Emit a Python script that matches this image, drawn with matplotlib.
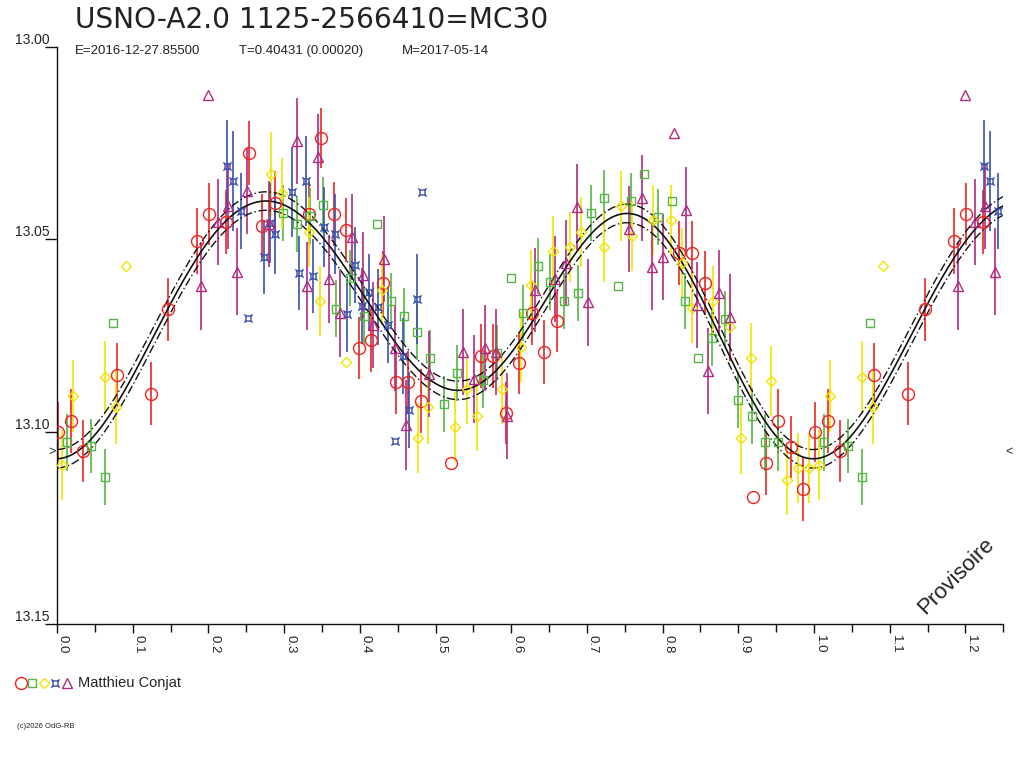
import numpy as np
import matplotlib
matplotlib.use("Agg")
import matplotlib.pyplot as plt
from matplotlib.path import Path
from matplotlib.ticker import MultipleLocator

plt.rcParams['font.family'] = ['Liberation Sans', 'DejaVu Sans']

# ---------------- data (phase, magnitude, error) ----------------
red_phase = [0.0017, 0.0181, 0.0347, 0.0789, 0.1238, 0.1470, 0.1845, 0.2012, 0.2232, 0.2540,
             0.2704, 0.2880, 0.3329, 0.3487, 0.3659, 0.3818, 0.3989, 0.4148, 0.4310, 0.4478,
             0.4641, 0.4808, 0.5209, 0.5601, 0.5764, 0.5931, 0.6103, 0.6271, 0.6433, 0.6601,
             0.8221, 0.8392, 0.8560, 0.9198, 0.9366, 0.9528, 0.9696, 0.9859]
red_mag = [13.1002, 13.0972, 13.1050, 13.0852, 13.0901, 13.0682, 13.0504, 13.0434, 13.0454, 13.0275,
           13.0465, 13.0405, 13.0434, 13.0236, 13.0434, 13.0476, 13.0782, 13.0762, 13.0613, 13.0872,
           13.0872, 13.0920, 13.1081, 13.0803, 13.0803, 13.0951, 13.0821, 13.0692, 13.0792, 13.0712,
           13.0535, 13.0535, 13.0613, 13.1169, 13.1081, 13.0972, 13.1039, 13.1150]
red_err = [0.0078, 0.0083, 0.0081, 0.0083, 0.0081, 0.0081, 0.0086, 0.0081, 0.0083, 0.0083,
           0.0083, 0.0083, 0.0083, 0.0078, 0.0083, 0.0083, 0.0081, 0.0083, 0.0083, 0.0083,
           0.0081, 0.0083, 0.0, 0.0083, 0.0083, 0.0081, 0.0081, 0.0083, 0.0083, 0.0081,
           0.0083, 0.0083, 0.0083, 0.0, 0.0083, 0.0083, 0.0081, 0.0083]

green_phase = [0.0128, 0.0449, 0.0634, 0.0740, 0.2982, 0.3166, 0.3342, 0.3518, 0.3686, 0.3871,
               0.4055, 0.4223, 0.4408, 0.4584, 0.4752, 0.4927, 0.5112, 0.5288, 0.5631, 0.5808,
               0.5997, 0.6160, 0.6350, 0.6513, 0.6701, 0.6878, 0.7050, 0.7230, 0.7407, 0.7579,
               0.7758, 0.7943, 0.8120, 0.8296, 0.8464, 0.8649, 0.8824, 0.8992, 0.9177, 0.9353,
               0.9528]
green_mag = [13.1028, 13.1037, 13.1117, 13.0718, 13.0431, 13.0461, 13.0439, 13.0411, 13.0680, 13.0601,
             13.0699, 13.0461, 13.0660, 13.0699, 13.0740, 13.0809, 13.0928, 13.0848, 13.0866, 13.0796,
             13.0600, 13.0691, 13.0569, 13.0610, 13.0660, 13.0640, 13.0431, 13.0392, 13.0621, 13.0400,
             13.0331, 13.0441, 13.0400, 13.0660, 13.0809, 13.0757, 13.0708, 13.0918, 13.0959, 13.1028,
             13.1028]
green_err = [0.0073, 0.0071, 0.0073, 0.0, 0.0073, 0.0073, 0.0073, 0.0073, 0.0073, 0.0073,
             0.0073, 0.0, 0.0073, 0.0073, 0.0073, 0.0073, 0.0073, 0.0073, 0.0073, 0.0073,
             0.0, 0.0073, 0.0073, 0.0073, 0.0073, 0.0073, 0.0073, 0.0073, 0.0, 0.0073,
             0.0, 0.0073, 0.0, 0.0073, 0.0, 0.0073, 0.0073, 0.0073, 0.0073, 0.0073,
             0.0073]

yellow_phase = [0.0070, 0.0215, 0.0638, 0.0783, 0.0911, 0.2823, 0.2976, 0.3333, 0.3474, 0.3814,
                0.4289, 0.4765, 0.4905, 0.5262, 0.5412, 0.5544, 0.5883, 0.6126, 0.6262, 0.6556,
                0.6777, 0.6918, 0.7226, 0.7454, 0.7596, 0.7877, 0.8107, 0.8252, 0.8388, 0.8670,
                0.8890, 0.9168, 0.9032, 0.9432, 0.9647, 0.9793, 0.9938]
yellow_mag = [13.1087, 13.0907, 13.0859, 13.0937, 13.0569, 13.0331, 13.0380, 13.0480, 13.0660, 13.0818,
              13.0632, 13.1017, 13.0937, 13.0987, 13.0889, 13.0959, 13.0889, 13.0779, 13.0619, 13.0530,
              13.0519, 13.0480, 13.0519, 13.0413, 13.0491, 13.0450, 13.0450, 13.0562, 13.0678, 13.0660,
              13.0729, 13.0809, 13.1016, 13.0868, 13.1126, 13.1095, 13.1095]
yellow_err = [0.0091, 0.0094, 0.0094, 0.0094, 0.0, 0.0109, 0.0091, 0.0091, 0.0091, 0.0,
              0.0091, 0.0091, 0.0094, 0.0091, 0.0091, 0.0091, 0.0091, 0.0091, 0.0091, 0.0091,
              0.0091, 0.0091, 0.0091, 0.0091, 0.0091, 0.0091, 0.0091, 0.0091, 0.0091, 0.0091,
              0.0091, 0.0091, 0.0094, 0.0091, 0.0091, 0.0091, 0.0091]

blue_phase = [0.2242, 0.2329, 0.2431, 0.2527, 0.2734, 0.2814, 0.2880, 0.3100, 0.3197, 0.3285,
              0.3378, 0.3531, 0.3672, 0.3827, 0.3937, 0.4033, 0.4126, 0.4236, 0.4377, 0.4465,
              0.4567, 0.4654, 0.4752, 0.4826]
blue_mag = [13.0309, 13.0348, 13.0426, 13.0705, 13.0545, 13.0457, 13.0486, 13.0378, 13.0588, 13.0348,
            13.0595, 13.0467, 13.0486, 13.0695, 13.0567, 13.0673, 13.0636, 13.0675, 13.0723, 13.1024,
            13.0803, 13.0944, 13.0656, 13.0378]
blue_err = [0.0120, 0.0130, 0.0099, 0.0, 0.0096, 0.0104, 0.0104, 0.0117, 0.0096, 0.0117,
            0.0096, 0.0104, 0.0104, 0.0099, 0.0099, 0.0099, 0.0099, 0.0099, 0.0099, 0.0,
            0.0099, 0.0099, 0.0117, 0.0]

purple_phase = [0.1898, 0.1999, 0.2131, 0.2263, 0.2384, 0.2514, 0.2794, 0.3164, 0.3306, 0.3452,
                0.3597, 0.3742, 0.3893, 0.4036, 0.4178, 0.4324, 0.4465, 0.4610, 0.4918, 0.5367,
                0.5513, 0.5654, 0.5799, 0.5941, 0.6314, 0.6579, 0.6724, 0.6873, 0.7019, 0.7560,
                0.7724, 0.7864, 0.8009, 0.8155, 0.8305, 0.8458, 0.8604, 0.8749, 0.8890]
purple_mag = [13.0621, 13.0125, 13.0454, 13.0413, 13.0584, 13.0374, 13.0461, 13.0244, 13.0621, 13.0285,
              13.0604, 13.0692, 13.0493, 13.0593, 13.0722, 13.0552, 13.0783, 13.0983, 13.0851, 13.0792,
              13.0864, 13.0783, 13.0792, 13.0959, 13.0632, 13.0604, 13.0562, 13.0415, 13.0664, 13.0474,
              13.0393, 13.0573, 13.0545, 13.0224, 13.0424, 13.0671, 13.0842, 13.0640, 13.0703]
purple_err = [0.0114, 0.0, 0.0112, 0.0112, 0.0114, 0.0112, 0.0112, 0.0112, 0.0114, 0.0112,
              0.0114, 0.0114, 0.0112, 0.0112, 0.0112, 0.0112, 0.0112, 0.0117, 0.0112, 0.0112,
              0.0114, 0.0112, 0.0112, 0.0112, 0.0109, 0.0112, 0.0112, 0.0112, 0.0112, 0.0112,
              0.0112, 0.0112, 0.0112, 0.0, 0.0112, 0.0112, 0.0112, 0.0112, 0.0112]

fit_band = 0.0024          # half width of dash-dot envelope (mag)
fit_order = 3               # harmonics in the Fourier fit
mean_mark_mag = 13.1053     # position of the > / < edge marks
x_ticks = [0.0, 0.1, 0.2, 0.3, 0.4, 0.5, 0.6, 0.7, 0.8, 0.9, 1.0, 1.1, 1.2]
y_ticks = [13.00, 13.05, 13.10, 13.15]

title = "USNO-A2.0 1125-2566410=MC30"
sub_e = "E=2016-12-27.85500"
sub_t = "T=0.40431 (0.00020)"
sub_m = "M=2017-05-14"
observer = "Matthieu Conjat"
copyright_txt = "(c)2026 OdG-RB"
watermark = "Provisoire"

# ---------------- styles ----------------
W, H = 1024, 768
star_verts = [(-0.6, -0.6), (0.6, -0.6), (0.6, 0.6), (-0.6, 0.6), (-0.6, -0.6),
              (-0.6, -0.6), (-1, -1), (0.6, -0.6), (1, -1), (0.6, 0.6), (1, 1), (-0.6, 0.6), (-1, 1)]
star_codes = [Path.MOVETO, Path.LINETO, Path.LINETO, Path.LINETO, Path.CLOSEPOLY,
              Path.MOVETO, Path.LINETO, Path.MOVETO, Path.LINETO, Path.MOVETO, Path.LINETO,
              Path.MOVETO, Path.LINETO]
blue_marker = Path(star_verts, star_codes)

series = [
    (red_phase, red_mag, red_err, '#ee2222', 'o', 8.6),
    (green_phase, green_mag, green_err, '#55b544', 's', 5.6),
    (yellow_phase, yellow_mag, yellow_err, '#f2e400', 'D', 5.6),
    (blue_phase, blue_mag, blue_err, '#3a50aa', blue_marker, 6.0),
    (purple_phase, purple_mag, purple_err, '#b02a82', '^', 6.8),
]

fig = plt.figure(figsize=(W / 100, H / 100), dpi=100)
ax = fig.add_axes([57 / W, 1 - 624 / H, (1003.3 - 57) / W, (624 - 47) / H])
ax.set_xlim(0.0, 1.25)
ax.set_ylim(13.15, 13.00)

# error bars and markers (phase repeated beyond 1 up to 1.25)
for ph, mg, er, col, mk, ms in series:
    ph = np.asarray(ph); mg = np.asarray(mg); er = np.asarray(er)
    rep = ph < 0.25
    P = np.concatenate([ph, ph[rep] + 1.0])
    M = np.concatenate([mg, mg[rep]])
    E = np.concatenate([er, er[rep]])
    has = E > 0
    ax.vlines(P[has], M[has] - E[has], M[has] + E[has], colors=col, lw=1.2, zorder=2)
    ax.plot(P, M, linestyle='none', marker=mk, ms=ms, mfc='none', mec=col, mew=1.0, zorder=4)

# weighted Fourier least-squares fit; points without error bars excluded
all_p = np.concatenate([np.asarray(s[0]) for s in series])
all_m = np.concatenate([np.asarray(s[1]) for s in series])
all_e = np.concatenate([np.asarray(s[2]) for s in series])
use = all_e > 0
def design(p):
    w = 2 * np.pi * p
    cols = [np.ones_like(p)]
    for k in range(1, fit_order + 1):
        cols += [np.cos(k * w), np.sin(k * w)]
    return np.column_stack(cols)
wts = 1.0 / all_e[use]
coef, *_ = np.linalg.lstsq(design(all_p[use]) * wts[:, None], all_m[use] * wts, rcond=None)
pp = np.linspace(0, 1.25, 800)
fit = design(pp) @ coef
ax.plot(pp, fit, color='#111111', lw=1.2, zorder=3)
ax.plot(pp, fit - fit_band, color='#111111', lw=1.0, ls=(0, (6, 2, 1, 2)), zorder=3)
ax.plot(pp, fit + fit_band, color='#111111', lw=1.0, ls=(0, (6, 2, 1, 2)), zorder=3)

# axes styling
for s in ['top', 'right']:
    ax.spines[s].set_visible(False)
for s in ['left', 'bottom']:
    ax.spines[s].set_color('#111111')
    ax.spines[s].set_linewidth(1.0)
ax.set_xticks(x_ticks)
ax.set_xticklabels([f"{t:.1f}" for t in x_ticks])
ax.xaxis.set_minor_locator(MultipleLocator(0.05))
ax.tick_params(axis='x', which='both', direction='out', length=6.5, width=1.0, color='#111111',
               labelsize=9.5, pad=1.5, labelcolor='#222222')
ax.tick_params(axis='x', which='minor', length=5.8)
for lab in ax.get_xticklabels():
    lab.set_rotation(-90)
    lab.set_ha('left')
    lab.set_va('top')
ax.set_yticks(y_ticks)
ax.set_yticklabels([f"{t:.2f}" for t in y_ticks])
ax.tick_params(axis='y', which='both', direction='out', length=9, width=1.0, color='#111111',
               labelsize=10, pad=-3.8, labelcolor='#222222')
for lab in ax.get_yticklabels():
    lab.set_va('bottom')

# edge marks
ax.text(-0.0015, mean_mark_mag, ">", transform=ax.transData, ha='right', va='center',
        fontsize=9, color='#222222', clip_on=False)
ax.text(1.2525, mean_mark_mag, "<", transform=ax.transData, ha='left', va='center',
        fontsize=9, color='#222222', clip_on=False)

# texts
fig.text(75 / W, 1 - 28 / H, title, fontsize=20.2, color='#222222', va='baseline', ha='left',
         family=['DejaVu Sans'])
fig.text(75 / W, 1 - 54 / H, sub_e, fontsize=9.5, color='#222222', va='baseline', ha='left')
fig.text(239 / W, 1 - 54 / H, sub_t, fontsize=9.5, color='#222222', va='baseline', ha='left')
fig.text(402 / W, 1 - 54 / H, sub_m, fontsize=9.5, color='#222222', va='baseline', ha='left')
fig.text(956 / W, 1 - 576 / H, watermark, fontsize=16, rotation=45, color='#222222',
         ha='center', va='center')
fig.text(17 / W, 1 - 726 / H, copyright_txt, fontsize=5.5, color='#222222', ha='left', va='center')

# legend row (overlay axes in pixel units)
lg = fig.add_axes([0, 0, 1, 1], facecolor='none')
lg.set_xlim(0, W); lg.set_ylim(H, 0); lg.axis('off')
for i, (ph, mg, er, col, mk, ms) in enumerate(series):
    lg.plot([20.7 + 11.5 * i], [682.7], linestyle='none', marker=mk, ms=ms, mfc='none', mec=col, mew=1.0)
lg.text(78, 682.5, observer, fontsize=10.5, color='#222222', ha='left', va='center')

fig.savefig("out.png", dpi=100)
